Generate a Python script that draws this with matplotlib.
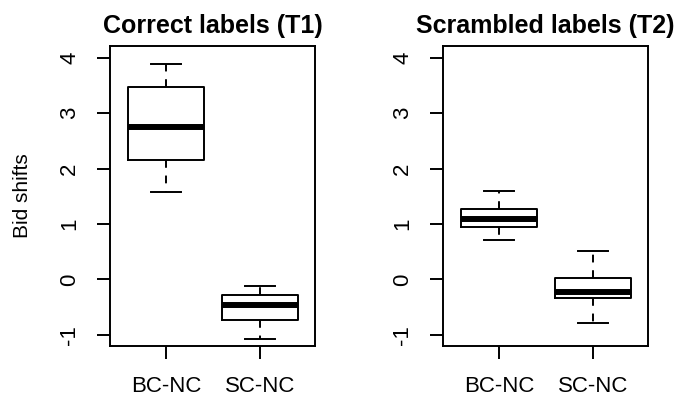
import matplotlib.pyplot as plt

plt.rcParams['font.family'] = ['Liberation Sans', 'DejaVu Sans']

groups = ["BC-NC", "SC-NC"]
titles = ["Correct labels (T1)", "Scrambled labels (T2)"]

# box stats per panel: lower whisker, Q1, median, Q3, upper whisker
t1_whislo = [1.57, -1.08]
t1_q1 = [2.16, -0.73]
t1_med = [2.75, -0.46]
t1_q3 = [3.48, -0.28]
t1_whishi = [3.89, -0.12]

t2_whislo = [0.71, -0.79]
t2_q1 = [0.95, -0.34]
t2_med = [1.10, -0.23]
t2_q3 = [1.28, 0.02]
t2_whishi = [1.59, 0.52]

yticks = [-1, 0, 1, 2, 3, 4]


def make_stats(lo, q1, med, q3, hi):
    return [dict(label=g, whislo=a, q1=b, med=c, q3=d, whishi=e, fliers=[])
            for g, a, b, c, d, e in zip(groups, lo, q1, med, q3, hi)]


panels = [
    make_stats(t1_whislo, t1_q1, t1_med, t1_q3, t1_whishi),
    make_stats(t2_whislo, t2_q1, t2_med, t2_q3, t2_whishi),
]

fig = plt.figure(figsize=(6.74, 3.97), dpi=100)
lefts = [110 / 674, 443 / 674]
for left, stats, title in zip(lefts, panels, titles):
    ax = fig.add_axes([left, 0.1285, 205 / 674, 0.7565])
    ax.bxp(stats, positions=[1, 2], widths=0.8, capwidths=0.32,
           showfliers=False, patch_artist=False,
           boxprops=dict(color='black', linewidth=1.4),
           medianprops=dict(color='black', linewidth=4.3, solid_capstyle='butt'),
           whiskerprops=dict(color='black', linewidth=1.4, linestyle=(0, (4, 4))),
           capprops=dict(color='black', linewidth=1.4))
    ax.set_xlim(0.404, 2.585)
    ax.set_ylim(-1.2, 4.22)
    ax.set_yticks(yticks)
    ax.set_yticklabels([str(v) for v in yticks], rotation=90, va='center')
    ax.set_xticks([1, 2])
    ax.set_xticklabels(groups)
    ax.tick_params(axis='both', direction='out', length=9.4, width=1.4, labelsize=16)
    ax.tick_params(axis='y', pad=12)
    ax.tick_params(axis='x', pad=12)
    for s in ax.spines.values():
        s.set_linewidth(1.4)
    ax.set_title(title, fontsize=18, fontweight='bold', pad=9)

fig.text(22 / 674, 1 - 196 / 397, "Bid shifts", rotation=90, ha='center', va='center', fontsize=15)

fig.savefig("out.png", dpi=100)
